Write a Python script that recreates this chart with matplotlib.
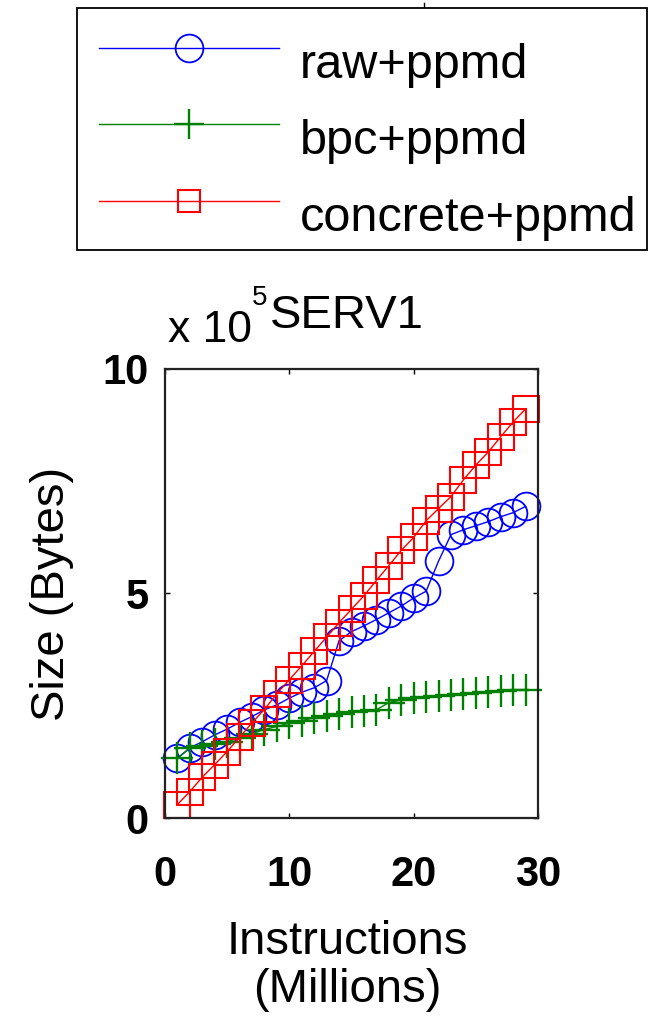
import matplotlib.pyplot as plt
from matplotlib.lines import Line2D
from matplotlib.transforms import ScaledTranslation

plt.rcParams['font.family'] = ['Liberation Sans', 'DejaVu Sans']

W, H = 649, 1021

# instructions in millions, sizes in units of 1e5 bytes
instr = list(range(1, 30))
raw_ppmd = [1.33, 1.56, 1.70, 1.85, 1.98, 2.13, 2.26, 2.41, 2.52, 2.67,
            2.80, 2.90, 3.06, 3.95, 4.15, 4.28, 4.42, 4.57, 4.72, 4.90,
            5.05, 5.72, 6.31, 6.42, 6.51, 6.60, 6.71, 6.80, 6.94]
bpc_ppmd = [1.33, 1.56, 1.60, 1.65, 1.70, 1.78, 1.88, 1.97, 2.04, 2.11,
            2.17, 2.23, 2.28, 2.31, 2.35, 2.38, 2.41, 2.57, 2.63, 2.67,
            2.69, 2.71, 2.74, 2.76, 2.78, 2.80, 2.82, 2.85, 2.86]
concrete_ppmd = [0.30, 0.59, 0.91, 1.19, 1.48, 1.80, 2.12, 2.42, 2.77, 3.08,
                 3.39, 3.71, 4.03, 4.35, 4.65, 4.95, 5.29, 5.62, 5.96, 6.25,
                 6.62, 6.89, 7.16, 7.53, 7.86, 8.15, 8.49, 8.82, 9.11]

xticks = [0, 10, 20, 30]
yticks = [0, 5, 10]

fig = plt.figure(figsize=(W / 100, H / 100), dpi=100)
ax = fig.add_axes([165 / W, 1 - 818 / H, 373 / W, 449 / H])

ax.plot(instr, raw_ppmd, color='#0000ff', marker='o', ms=20, mfc='none',
        mew=1.3, lw=1.0, clip_on=False, label='raw+ppmd')
ax.plot(instr, bpc_ppmd, color='#008000', marker='+', ms=23,
        mew=1.7, lw=1.0, clip_on=False, label='bpc+ppmd')
ax.plot(instr, concrete_ppmd, color='#ff0000', marker='s', ms=18.5,
        mfc='none', mew=1.5, lw=1.0, clip_on=False, label='concrete+ppmd')

ax.set_xlim(0, 30)
ax.set_ylim(0, 10)
ax.set_xticks(xticks)
ax.set_yticks(yticks)
ax.tick_params(direction='in', length=3.5, width=1, top=True, right=True,
               labelsize=30)
ax.tick_params(axis='x', pad=27)
ax.tick_params(axis='y', pad=12)
for lab in ax.get_xticklabels() + ax.get_yticklabels():
    lab.set_fontweight('bold')
for sp in ax.spines.values():
    sp.set_linewidth(1.6)
    sp.set_color('#222222')

ax.set_xlabel('Instructions\n(Millions)', fontsize=34, linespacing=1.12)
ax.xaxis.set_label_coords(0.49, -0.228)
ax.set_ylabel('Size (Bytes)', fontsize=34)
ax.yaxis.set_label_coords(-0.303, 0.5)
ax.yaxis.label.set_va('center')

ax.set_title('SERV1', fontsize=34, x=0.488, y=1.100, va='center')
fig.text(168 / W, 1 - 331 / H, 'x 10', fontsize=32, ha='left', va='center')
fig.text(252 / W, 1 - 298 / H, '5', fontsize=20, ha='left', va='center')

fig.add_artist(Line2D([424 / W, 424 / W], [1 - 3 / H, 1 - 9 / H],
                      color='k', lw=1))

leg = fig.legend(loc='upper left',
                 bbox_to_anchor=(77 / W, 1 - 250 / H, 570 / W, 242 / H),
                 mode='expand', fontsize=35, frameon=True, fancybox=False,
                 edgecolor='k', framealpha=1, borderpad=0.45,
                 labelspacing=0.65, handlelength=3.7, handletextpad=0.43,
                 borderaxespad=0)
leg.get_frame().set_linewidth(1.3)
for h, s in zip(leg.legend_handles, [20, 22, 16]):
    h.set_markersize(s)
# MATLAB puts the label text a little below the sample line
shift = ScaledTranslation(0, -13 / 100, fig.dpi_scale_trans)
for t in leg.get_texts():
    t.set_transform(t.get_transform() + shift)

fig.savefig('out.png', dpi=100)
